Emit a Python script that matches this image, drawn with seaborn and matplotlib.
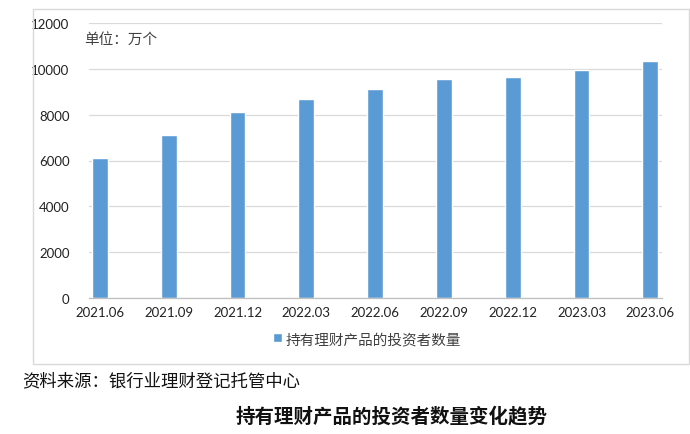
import matplotlib
matplotlib.use("Agg")
import matplotlib.pyplot as plt
import seaborn as sns
import pandas as pd
from matplotlib.patches import Rectangle

# data (unit: 万个)
periods = ['2021.06', '2021.09', '2021.12', '2022.03', '2022.06',
           '2022.09', '2022.12', '2023.03', '2023.06']
investors = [6120, 7120, 8120, 8690, 9130, 9540, 9660, 9930, 10340]
series_name = '持有理财产品的投资者数量'
y_ticks = [0, 2000, 4000, 6000, 8000, 10000, 12000]

sns.set_theme(style='white')
plt.rcParams['font.family'] = ['Noto Sans CJK SC', 'DejaVu Sans']

df = pd.DataFrame({'period': periods, 'value': investors, 'series': series_name})

W, H = 690, 435
fig = plt.figure(figsize=(W / 100, H / 100), dpi=100)
fig.patch.set_facecolor('white')

# outer chart frame
fig.patches.append(Rectangle((33 / W, 1 - 365 / H), (689 - 33) / W, (365 - 10) / H,
                             transform=fig.transFigure, fill=False,
                             edgecolor='#d9d9d9', linewidth=1.0))

ax = fig.add_axes([89 / W, 1 - 299 / H, (662 - 89) / W, (299 - 24) / H])
sns.barplot(data=df, x='period', y='value', hue='series', palette=['#5b9bd5'],
            width=0.23, saturation=1, ax=ax, legend=True)

ax.set_xlim(-0.16, 8.17)
ax.set_ylim(0, 12000)
ax.set_yticks(y_ticks)
ax.set_yticklabels([str(v) for v in y_ticks], fontsize=9.5, family='Lato', color='#222222')
ax.set_xticks(range(len(periods)))
ax.set_xticklabels(periods, fontsize=9.5, family='Lato', color='#222222')
ax.tick_params(axis='y', length=0, pad=14)
ax.tick_params(axis='x', which='major', length=0, pad=6)
ax.set_xticks([i - 0.16 for i in range(len(periods))], minor=True)
ax.tick_params(axis='x', which='minor', length=4, color='#bfbfbf', width=0.8, direction='out')
ax.yaxis.grid(True, color='#d9d9d9', linewidth=0.9)
ax.set_axisbelow(True)
for s in ['top', 'right', 'left']:
    ax.spines[s].set_visible(False)
ax.spines['bottom'].set_color('#bfbfbf')
ax.spines['bottom'].set_linewidth(0.9)
ax.set_xlabel('')
ax.set_ylabel('')

ax.text(-0.23, 11300, '单位：万个', fontsize=10.5, color='#404040', va='center', ha='left')

handles, labels = ax.get_legend_handles_labels()
ax.get_legend().remove()
fig.legend(handles, labels, loc='center', bbox_to_anchor=(367 / W, 1 - 340 / H),
           frameon=False, fontsize=10.5, handlelength=0.6, handleheight=0.6,
           handletextpad=0.2, labelcolor='#404040')

fig.text(22 / W, 1 - 381 / H, '资料来源：银行业理财登记托管中心', fontsize=12.5,
         color='#111111', va='center', ha='left')
fig.text(392 / W, 1 - 416 / H, '持有理财产品的投资者数量变化趋势', fontsize=14,
         fontweight='bold', color='#111111', va='center', ha='center')

fig.savefig('out.png', dpi=100, facecolor='white')
